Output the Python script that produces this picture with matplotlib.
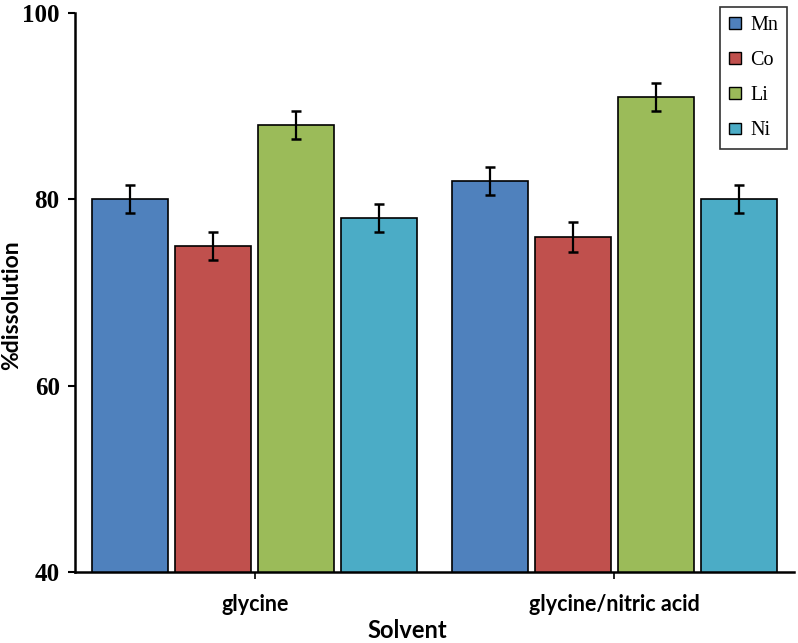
import matplotlib
matplotlib.use("Agg")
import matplotlib.pyplot as plt
import numpy as np
from matplotlib.patches import Patch

categories = ["glycine", "glycine/nitric acid"]
metals = ["Mn", "Co", "Li", "Ni"]
values = {
    "Mn": [80.0, 82.0],
    "Co": [75.0, 76.0],
    "Li": [88.0, 91.0],
    "Ni": [78.0, 80.0],
}
errors = {
    "Mn": [1.5, 1.5],
    "Co": [1.5, 1.6],
    "Li": [1.5, 1.5],
    "Ni": [1.5, 1.5],
}
colors = {"Mn": "#4F81BD", "Co": "#C0504D", "Li": "#9BBB59", "Ni": "#4BACC6"}
yticks = [40, 60, 80, 100]

fig = plt.figure(figsize=(7.98, 6.43), dpi=100)
ax = fig.add_axes([75/798, 1-572/643, (794-75)/798, (572-13)/643])

x = np.arange(len(categories))
pitch = 0.231
width = 0.212
for i, m in enumerate(metals):
    pos = x + (i - 1.5) * pitch
    ax.bar(pos, values[m], width=width, bottom=0, color=colors[m],
           edgecolor="black", linewidth=1.2, zorder=2)
    ax.errorbar(pos, values[m], yerr=errors[m], fmt="none", ecolor="black",
                elinewidth=1.6, capsize=3.5, capthick=1.8, zorder=3)

ax.set_xlim(-0.5, 1.5)
ax.set_ylim(40, 100)
ax.set_yticks(yticks)
ax.set_yticklabels([str(v) for v in yticks], fontfamily="Liberation Serif",
                   fontweight="bold", fontsize=18)
ax.set_xticks(x)
ax.set_xticklabels(categories, fontfamily="Lato", fontweight="bold", fontsize=15.5)
ax.tick_params(axis="y", direction="out", length=5, width=1.5, pad=6)
ax.tick_params(axis="x", direction="out", length=5, width=1.2, pad=11)

for s in ["top", "right"]:
    ax.spines[s].set_visible(False)
for s in ["left", "bottom"]:
    ax.spines[s].set_linewidth(1.8)

ax.set_ylabel("%dissolution", fontfamily="Lato", fontweight="bold", fontsize=16.5)
ax.yaxis.set_label_coords((12-75)/719, (572-305)/559)
ax.yaxis.label.set_va("center")
ax.set_xlabel("Solvent", fontfamily="Lato", fontweight="bold", fontsize=17)
ax.xaxis.set_label_coords((407-75)/719, -(630-572)/559)
ax.xaxis.label.set_va("center")

handles = [Patch(facecolor=colors[m], edgecolor="black", linewidth=1.0, label=m) for m in metals]
leg = ax.legend(handles=handles, loc="upper right",
                bbox_to_anchor=(787/798, 1-7/643), bbox_transform=fig.transFigure,
                prop={"family": "Liberation Serif", "size": 14.5},
                handlelength=0.6, handleheight=0.5, handletextpad=0.45,
                labelspacing=0.8, borderpad=0.45, borderaxespad=0,
                fancybox=False, frameon=True)
leg.get_frame().set_edgecolor("black")
leg.get_frame().set_linewidth(1.2)

fig.savefig("out.png", dpi=100)
